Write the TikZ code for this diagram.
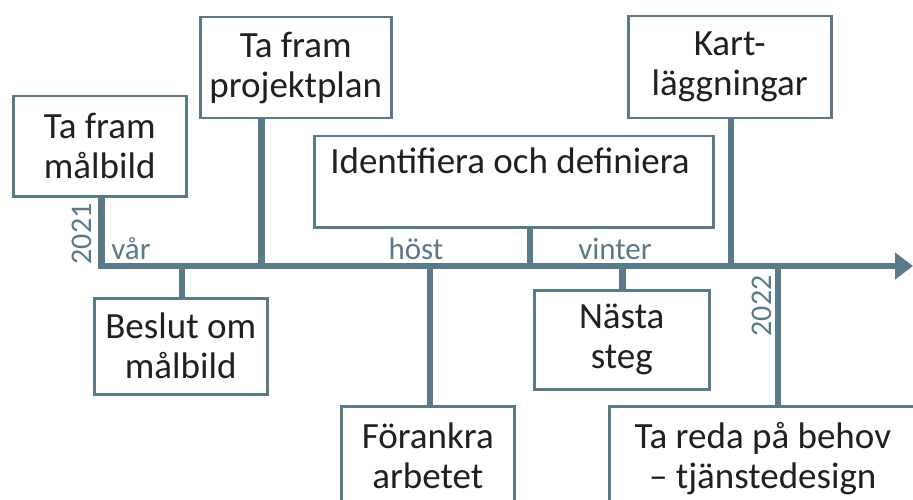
\documentclass[tikz,border=0pt]{standalone}
\usepackage{fontspec}
\setmainfont{Carlito}
\usetikzlibrary{arrows.meta}
\definecolor{slate}{HTML}{5B7A88}
\definecolor{ink}{HTML}{231F20}
\tikzset{
  box/.style={draw=slate, line width=2.5pt, fill=white, rectangle, inner sep=0pt,
    anchor=north west, align=center, text=ink, font=\fontsize{37}{40}\selectfont},
  boxtext/.style={text=ink, font=\fontsize{37}{40}\selectfont, inner sep=0pt},
  stem/.style={draw=slate, line width=6.5pt},
  season/.style={text=slate, font=\fontsize{31}{32}\selectfont, inner sep=0pt, anchor=base},
  year/.style={text=slate, font=\fontsize{30}{32}\selectfont, inner sep=0pt, rotate=90}
}
\begin{document}
\begin{tikzpicture}[x=1pt,y=-1pt]
\useasboundingbox (0,0) rectangle (913,500);
\clip (0,0) rectangle (913,500);
% coordinates on the time line
\coordinate (start) at (101.5,266);
\coordinate (end) at (913,266);
\coordinate (t1) at (101.5,266);
\coordinate (t2) at (261.5,266);
\coordinate (t3) at (530,266);
\coordinate (t4) at (731,266);
\coordinate (t5) at (182,266);
\coordinate (t6) at (430,266);
\coordinate (t7) at (622.5,266);
\coordinate (t8) at (778,266);
% boxes
\node[box, minimum width=173pt, minimum height=100pt] (b1) at (12,95) {Ta fram\\målbild};
\node[box, minimum width=191pt, minimum height=101pt] (b2) at (199,16) {Ta fram\\projektplan};
\node[box, minimum width=399pt, minimum height=91pt] (b3) at (313,135) {};
\node[boxtext, anchor=base] (b3t) at (510,173) {Identifiera och definiera};
\node[box, minimum width=203pt, minimum height=102pt] (b4) at (627,15) {Kart-\\läggningar};
\node[box, minimum width=173pt, minimum height=96pt] (b5) at (93,297) {Beslut om\\målbild};
\node[box, minimum width=173pt, minimum height=100pt] (b6) at (340,405) {Förankra\\arbetet};
\node[box, minimum width=175pt, minimum height=99pt] (b7) at (533,289) {Nästa\\steg};
\node[box, minimum width=307pt, minimum height=104pt] (b8) at (608,405) {Ta reda på behov\\– tjänstedesign};
% stems
\draw[stem] (t2) -- (t2 |- b2.south);
\draw[stem] (t3) -- (t3 |- b3.south);
\draw[stem] (t4) -- (t4 |- b4.south);
\draw[stem] (t5) -- (t5 |- b5.north);
\draw[stem] (t6) -- (t6 |- b6.north);
\draw[stem] (t7) -- (t7 |- b7.north);
\draw[stem] (t8) -- (t8 |- b8.north);
% main line
\draw[stem, line join=miter, -{Triangle[length=18pt,width=26pt]}] (t1 |- b1.south) -- (start) -- (end);
% labels
\node[season] (var) at (131,259) {vår};
\node[season] (host) at (416,259) {höst};
\node[season] (vinter) at (615,259) {vinter};
\node[year] (y1) at (82,234) {2021};
\node[year] (y2) at (762,306) {2022};
\end{tikzpicture}
\end{document}
